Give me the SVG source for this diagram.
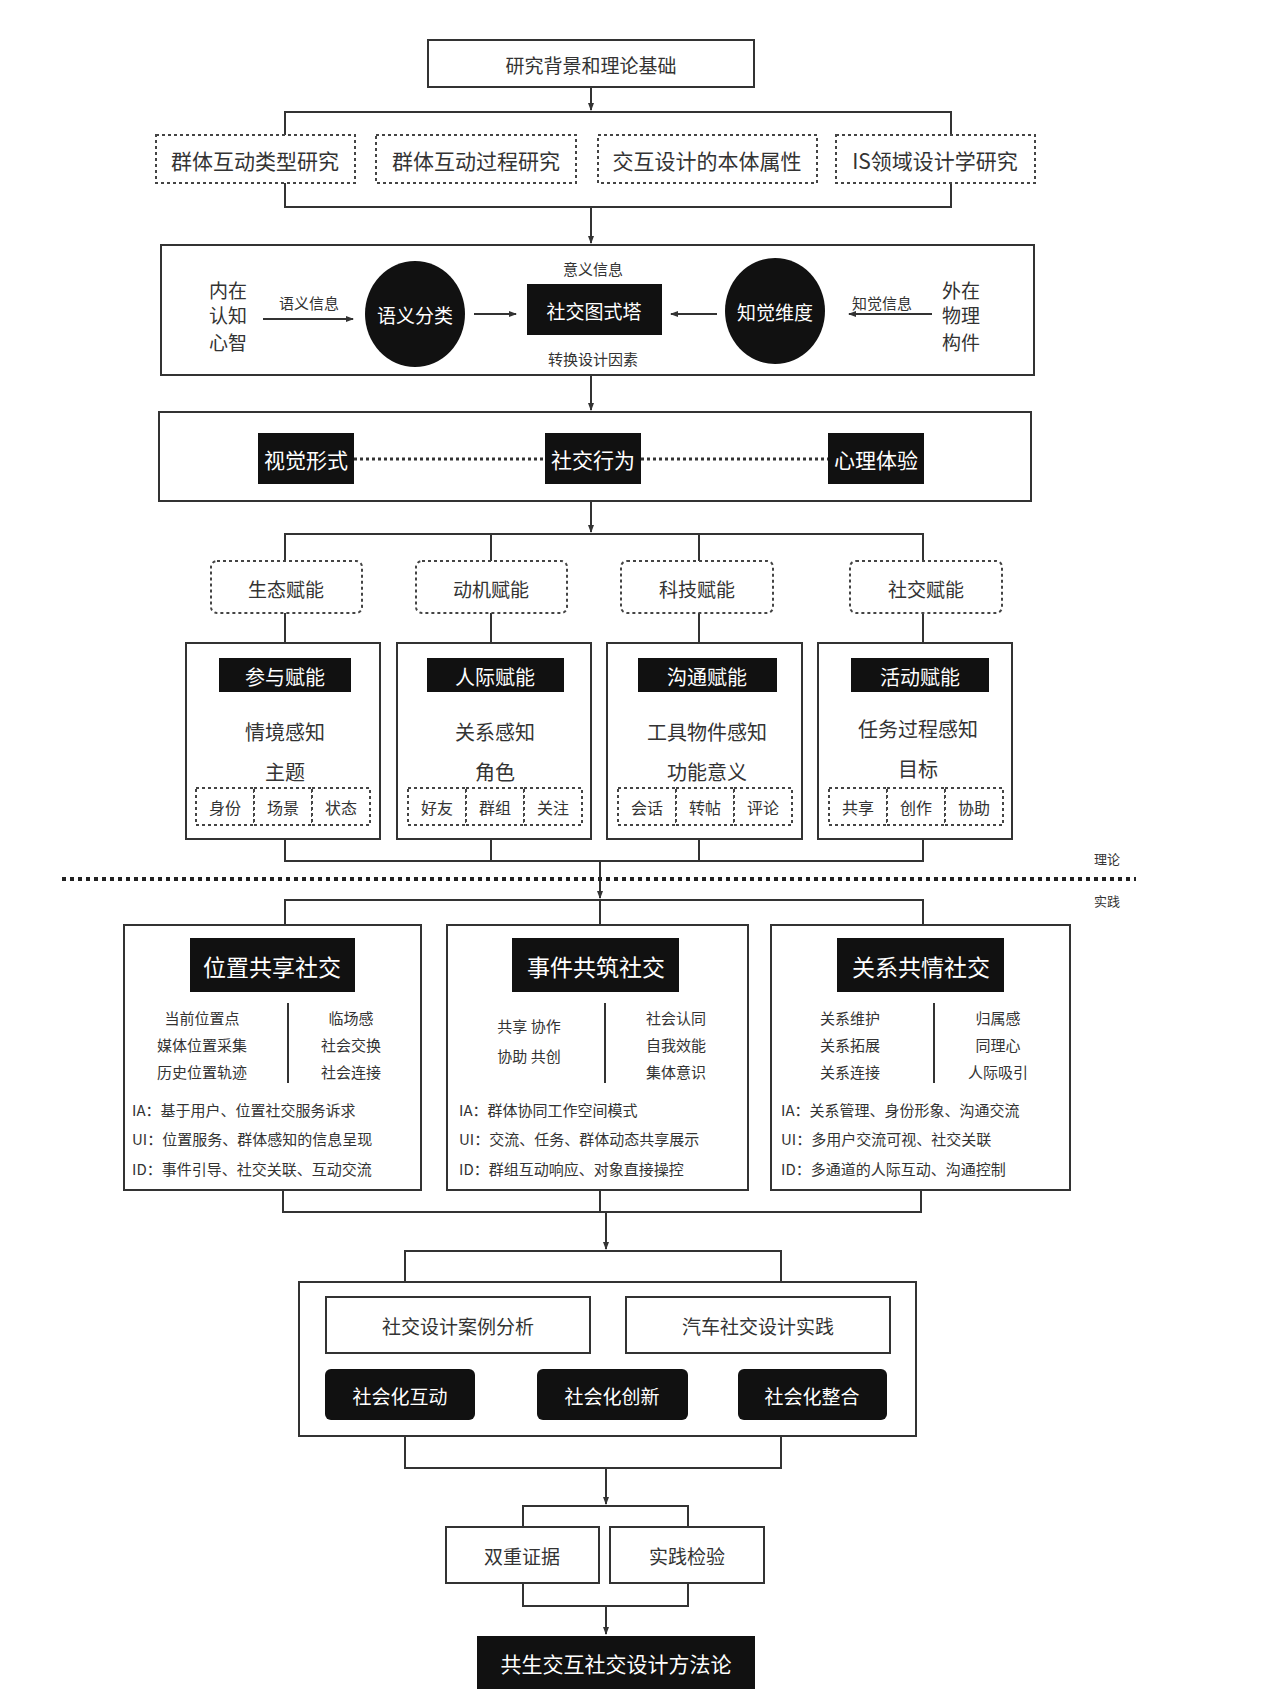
<svg xmlns="http://www.w3.org/2000/svg" width="1280" height="1706" viewBox="0 0 1280 1706">
<style>
text{font-family:"Noto Sans CJK SC","Liberation Sans",sans-serif;fill:#333;text-anchor:middle;dominant-baseline:central}
.w{fill:#fff}
.box{fill:#fff;stroke:#333;stroke-width:2}
.dash{fill:#fff;stroke:#444;stroke-width:2;stroke-dasharray:3 3}
.blk{fill:#111}
.ln{fill:none;stroke:#333;stroke-width:2}
.l{text-anchor:start}
</style>
<defs><marker id="a" markerWidth="8" markerHeight="8" refX="7" refY="4" orient="auto" markerUnits="userSpaceOnUse"><path d="M0,1 L8,4 L0,7z" fill="#333"/></marker></defs>
<rect width="1280" height="1706" fill="#fff"/>
<g id="connectors">
<path class="ln" d="M285,135 V112 H951 V135 M285,183 V207 H951 V183"/>
<path class="ln" d="M591,87 V110" marker-end="url(#a)"/>
<path class="ln" d="M591,207 V243" marker-end="url(#a)"/>
<path class="ln" d="M591,375 V410" marker-end="url(#a)"/>
<path class="ln" d="M591,501 V532" marker-end="url(#a)"/>
<path class="ln" d="M285,561 V534 H923 V561 M491,534 V561 M699,534 V561 M285,613 V643 M491,613 V643 M699,613 V643 M923,613 V643"/>
<path class="ln" d="M285,839 V861 H923 V839 M491,839 V861 M699,839 V861"/>
<path class="ln" d="M600,861 V898" marker-end="url(#a)"/>
<path d="M62,879 H1136" stroke="#222" stroke-width="4" stroke-dasharray="4 4"/>
<path class="ln" d="M285,925 V900 H923 V925 M600,900 V925"/>
<path class="ln" d="M283,1190 V1212 H921 V1190 M600,1190 V1212"/>
<path class="ln" d="M606,1212 V1249" marker-end="url(#a)"/>
<path class="ln" d="M405,1282 V1251 H781 V1282 M405,1436 V1468 H781 V1436"/>
<path class="ln" d="M606,1468 V1504" marker-end="url(#a)"/>
<path class="ln" d="M523,1527 V1506 H688 V1527 M523,1583 V1606 H688 V1583"/>
<path class="ln" d="M606,1606 V1634" marker-end="url(#a)"/>
</g>
<g id="n-top"><rect class="box" x="428" y="40" width="326" height="47"/><text x="591" y="64" font-size="19">研究背景和理论基础</text></g>
<g id="n-r1"><rect class="dash" x="156" y="135" width="199" height="48"/><text x="255" y="160" font-size="21">群体互动类型研究</text></g>
<g id="n-r2"><rect class="dash" x="376" y="135" width="200" height="48"/><text x="476" y="160" font-size="21">群体互动过程研究</text></g>
<g id="n-r3"><rect class="dash" x="598" y="135" width="219" height="48"/><text x="707" y="160" font-size="21">交互设计的本体属性</text></g>
<g id="n-r4"><rect class="dash" x="836" y="135" width="199" height="48"/><text x="935" y="160" font-size="21">IS领域设计学研究</text></g>
<g id="n-box2"><rect class="box" x="161" y="245" width="873" height="130"/>
<text x="228" y="289" font-size="19">内在</text><text x="228" y="314" font-size="19">认知</text><text x="228" y="341" font-size="19">心智</text>
<text x="309" y="302" font-size="15">语义信息</text>
<text x="961" y="289" font-size="19">外在</text><text x="961" y="314" font-size="19">物理</text><text x="961" y="341" font-size="19">构件</text>
<text x="882" y="302" font-size="15">知觉信息</text>
<text x="593" y="268" font-size="15">意义信息</text><text x="593" y="358" font-size="15">转换设计因素</text></g>
<g id="n-c1"><ellipse class="blk" cx="415" cy="314" rx="50" ry="53"/><text class="w" x="415" y="314" font-size="19">语义分类</text></g>
<g id="n-schema"><rect class="blk" x="527" y="284" width="135" height="51"/><text class="w" x="594" y="310" font-size="19">社交图式塔</text></g>
<g id="n-c2"><ellipse class="blk" cx="775" cy="311" rx="50" ry="53"/><text class="w" x="775" y="311" font-size="19">知觉维度</text></g>
<g id="n-box3"><rect class="box" x="159" y="412" width="872" height="89"/></g>
<g id="connectors-inner">
<path class="ln" d="M263,319 H353" marker-end="url(#a)"/>
<path class="ln" d="M474,314 H516" marker-end="url(#a)"/>
<path class="ln" d="M717,314 H671" marker-end="url(#a)"/>
<path class="ln" d="M932,314 H849" marker-end="url(#a)"/>
<path d="M354,459 H545 M641,459 H828" stroke="#333" stroke-width="3" stroke-dasharray="3 3"/>
</g>
<g id="n-v1"><rect class="blk" x="258" y="433" width="96" height="51"/><text class="w" x="306" y="459" font-size="21">视觉形式</text></g>
<g id="n-v2"><rect class="blk" x="545" y="433" width="96" height="51"/><text class="w" x="593" y="459" font-size="21">社交行为</text></g>
<g id="n-v3"><rect class="blk" x="828" y="433" width="96" height="51"/><text class="w" x="876" y="459" font-size="21">心理体验</text></g>
<g id="n-e1"><rect class="dash" x="211" y="561" width="151" height="52" rx="6"/><text x="286" y="588" font-size="19">生态赋能</text></g>
<g id="n-e2"><rect class="dash" x="416" y="561" width="151" height="52" rx="6"/><text x="491" y="588" font-size="19">动机赋能</text></g>
<g id="n-e3"><rect class="dash" x="621" y="561" width="152" height="52" rx="6"/><text x="697" y="588" font-size="19">科技赋能</text></g>
<g id="n-e4"><rect class="dash" x="850" y="561" width="152" height="52" rx="6"/><text x="926" y="588" font-size="19">社交赋能</text></g>
<g id="n-b1"><rect class="box" x="186" y="643" width="194" height="196"/><rect class="blk" x="219" y="658" width="132" height="34"/><text class="w" x="285" y="676" font-size="20">参与赋能</text>
<text x="285" y="731" font-size="20">情境感知</text><text x="285" y="771" font-size="20">主题</text>
<rect class="dash" x="196" y="788" width="58" height="37"/><rect class="dash" x="254" y="788" width="58" height="37"/><rect class="dash" x="312" y="788" width="58" height="37"/>
<text x="225" y="807" font-size="16">身份</text><text x="283" y="807" font-size="16">场景</text><text x="341" y="807" font-size="16">状态</text></g>
<g id="n-b2"><rect class="box" x="397" y="643" width="194" height="196"/><rect class="blk" x="427" y="658" width="137" height="34"/><text class="w" x="495" y="676" font-size="20">人际赋能</text>
<text x="495" y="731" font-size="20">关系感知</text><text x="495" y="771" font-size="20">角色</text>
<rect class="dash" x="408" y="788" width="58" height="37"/><rect class="dash" x="466" y="788" width="58" height="37"/><rect class="dash" x="524" y="788" width="58" height="37"/>
<text x="437" y="807" font-size="16">好友</text><text x="495" y="807" font-size="16">群组</text><text x="553" y="807" font-size="16">关注</text></g>
<g id="n-b3"><rect class="box" x="607" y="643" width="195" height="196"/><rect class="blk" x="638" y="658" width="139" height="34"/><text class="w" x="707" y="676" font-size="20">沟通赋能</text>
<text x="707" y="731" font-size="20">工具物件感知</text><text x="707" y="771" font-size="20">功能意义</text>
<rect class="dash" x="618" y="788" width="58" height="37"/><rect class="dash" x="676" y="788" width="58" height="37"/><rect class="dash" x="734" y="788" width="58" height="37"/>
<text x="647" y="807" font-size="16">会话</text><text x="705" y="807" font-size="16">转帖</text><text x="763" y="807" font-size="16">评论</text></g>
<g id="n-b4"><rect class="box" x="818" y="643" width="194" height="196"/><rect class="blk" x="851" y="658" width="138" height="34"/><text class="w" x="920" y="676" font-size="20">活动赋能</text>
<text x="918" y="728" font-size="20">任务过程感知</text><text x="918" y="768" font-size="20">目标</text>
<rect class="dash" x="829" y="788" width="58" height="37"/><rect class="dash" x="887" y="788" width="58" height="37"/><rect class="dash" x="945" y="788" width="58" height="37"/>
<text x="858" y="807" font-size="16">共享</text><text x="916" y="807" font-size="16">创作</text><text x="974" y="807" font-size="16">协助</text></g>
<g id="n-labels"><text x="1107" y="858" font-size="13">理论</text><text x="1107" y="900" font-size="13">实践</text></g>
<g id="n-p1"><rect class="box" x="124" y="925" width="297" height="265"/><rect class="blk" x="190" y="938" width="165" height="54"/><text class="w" x="272" y="966" font-size="23">位置共享社交</text>
<path class="ln" d="M288,1003 V1083" stroke-width="1.5"/>
<text x="202" y="1017" font-size="15">当前位置点</text><text x="202" y="1044" font-size="15">媒体位置采集</text><text x="202" y="1071" font-size="15">历史位置轨迹</text>
<text x="351" y="1017" font-size="15">临场感</text><text x="351" y="1044" font-size="15">社会交换</text><text x="351" y="1071" font-size="15">社会连接</text>
<text class="l" x="132" y="1109" font-size="15">IA：基于用户、位置社交服务诉求</text><text class="l" x="132" y="1138" font-size="15">UI：位置服务、群体感知的信息呈现</text><text class="l" x="132" y="1168" font-size="15">ID：事件引导、社交关联、互动交流</text></g>
<g id="n-p2"><rect class="box" x="447" y="925" width="301" height="265"/><rect class="blk" x="512" y="938" width="167" height="54"/><text class="w" x="596" y="966" font-size="23">事件共筑社交</text>
<path class="ln" d="M605,1003 V1083" stroke-width="1.5"/>
<text x="529" y="1025" font-size="15">共享  协作</text><text x="529" y="1055" font-size="15">协助  共创</text>
<text x="676" y="1017" font-size="15">社会认同</text><text x="676" y="1044" font-size="15">自我效能</text><text x="676" y="1071" font-size="15">集体意识</text>
<text class="l" x="459" y="1109" font-size="15">IA：群体协同工作空间模式</text><text class="l" x="459" y="1138" font-size="15">UI：交流、任务、群体动态共享展示</text><text class="l" x="459" y="1168" font-size="15">ID：群组互动响应、对象直接操控</text></g>
<g id="n-p3"><rect class="box" x="771" y="925" width="299" height="265"/><rect class="blk" x="837" y="938" width="167" height="54"/><text class="w" x="921" y="966" font-size="23">关系共情社交</text>
<path class="ln" d="M934,1003 V1083" stroke-width="1.5"/>
<text x="850" y="1017" font-size="15">关系维护</text><text x="850" y="1044" font-size="15">关系拓展</text><text x="850" y="1071" font-size="15">关系连接</text>
<text x="998" y="1017" font-size="15">归属感</text><text x="998" y="1044" font-size="15">同理心</text><text x="998" y="1071" font-size="15">人际吸引</text>
<text class="l" x="781" y="1109" font-size="15">IA：关系管理、身份形象、沟通交流</text><text class="l" x="781" y="1138" font-size="15">UI：多用户交流可视、社交关联</text><text class="l" x="781" y="1168" font-size="15">ID：多通道的人际互动、沟通控制</text></g>
<g id="n-box4"><rect class="box" x="299" y="1282" width="617" height="154"/>
<rect class="box" x="326" y="1297" width="264" height="56"/><text x="458" y="1325" font-size="19">社交设计案例分析</text>
<rect class="box" x="626" y="1297" width="264" height="56"/><text x="758" y="1325" font-size="19">汽车社交设计实践</text></g>
<g id="n-s1"><rect class="blk" x="325" y="1369" width="150" height="51" rx="6"/><text class="w" x="400" y="1395" font-size="19">社会化互动</text></g>
<g id="n-s2"><rect class="blk" x="537" y="1369" width="151" height="51" rx="6"/><text class="w" x="612" y="1395" font-size="19">社会化创新</text></g>
<g id="n-s3"><rect class="blk" x="738" y="1369" width="149" height="51" rx="6"/><text class="w" x="812" y="1395" font-size="19">社会化整合</text></g>
<g id="n-d1"><rect class="box" x="446" y="1527" width="153" height="56"/><text x="522" y="1555" font-size="19">双重证据</text></g>
<g id="n-d2"><rect class="box" x="610" y="1527" width="154" height="56"/><text x="687" y="1555" font-size="19">实践检验</text></g>
<g id="n-final"><rect class="blk" x="477" y="1636" width="278" height="53"/><text class="w" x="616" y="1663" font-size="21">共生交互社交设计方法论</text></g>
</svg>
